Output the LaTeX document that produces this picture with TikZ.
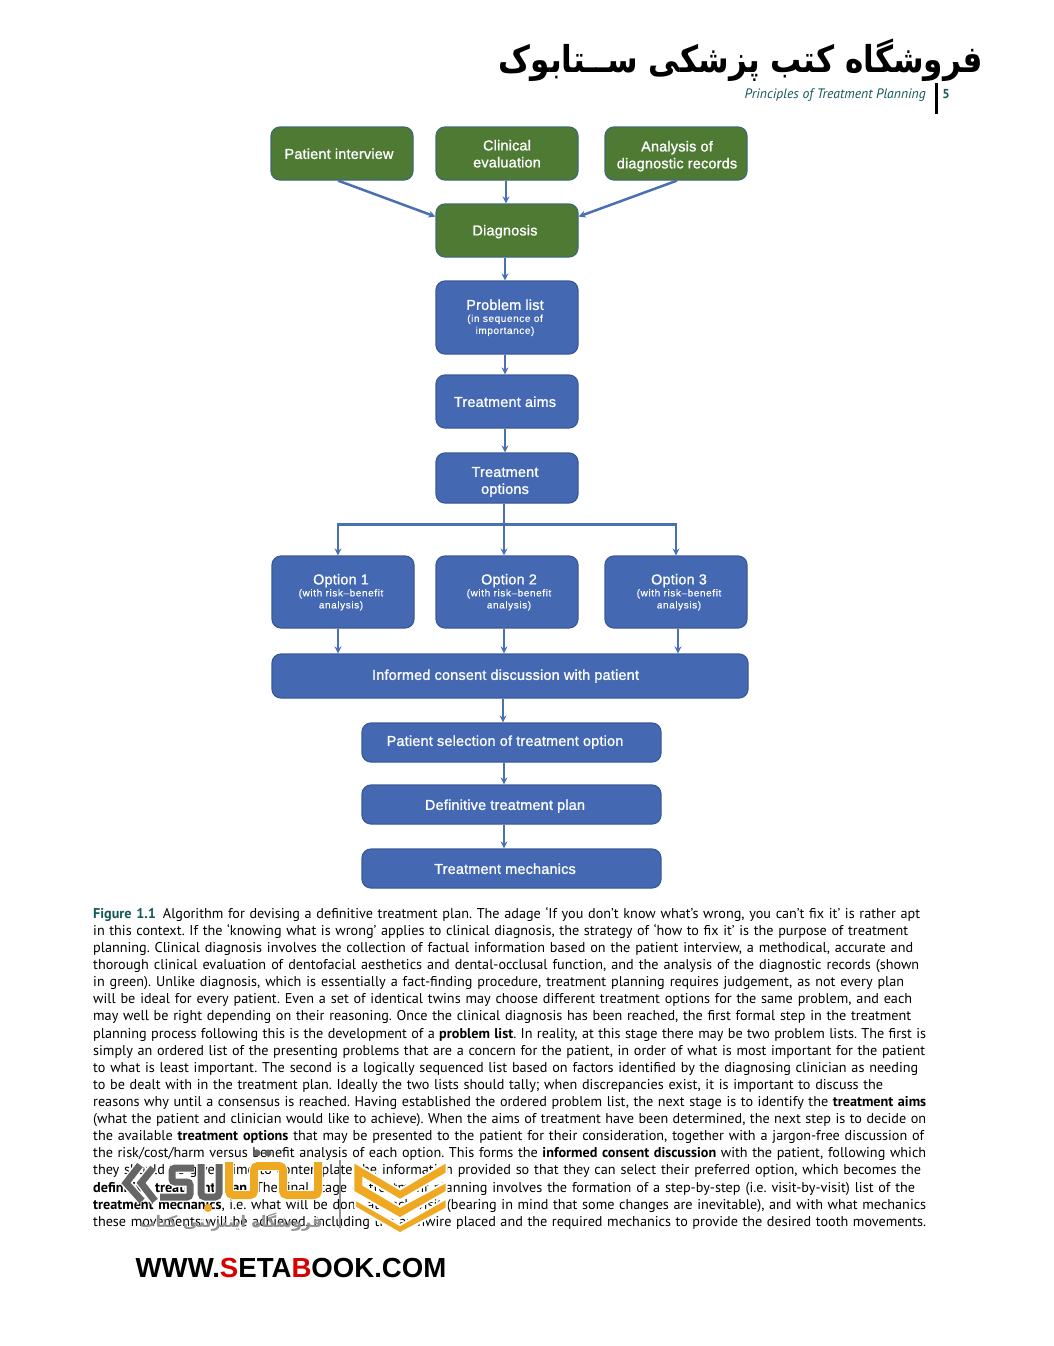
\documentclass[tikz,border=0pt]{standalone}
\usepackage{fontspec}
\usetikzlibrary{arrows.meta}
\setmainfont{PT Sans}
\newfontfamily\boxfont[LetterSpace=1.5,FakeBold=1.2]{Liberation Sans}
\newfontfamily\boxsmall[LetterSpace=6,FakeBold=0.4]{Liberation Sans}
\newfontfamily\capfont{PT Sans}
\newfontfamily\urlfont{Liberation Sans}
\newfontfamily\farsi[Script=Arabic]{DejaVu Sans}
\TeXXeTstate=1
\frenchspacing
\definecolor{boxblue}{HTML}{4469B2}
\definecolor{boxgreen}{HTML}{4E7A34}
\definecolor{greenedge}{HTML}{3F6A72}
\definecolor{arrowblue}{HTML}{4A70B4}
\definecolor{teal1}{HTML}{15595A}
\definecolor{logoorange}{HTML}{EFA822}
\definecolor{logogrey}{HTML}{666666}
\tikzset{
  flow/.style={rounded corners=9pt,line width=1.2pt,text=white,inner sep=0pt,
    font=\boxfont\fontsize{14.4}{17}\selectfont},
  greenbox/.style={flow,fill=boxgreen,draw=greenedge},
  bluebox/.style={flow,fill=boxblue,draw=boxblue!85!black},
  wide/.style={minimum width=142pt},
  conn/.style={draw=arrowblue,line width=2.5pt,-{Stealth[length=7pt,width=7pt]}},
  connplain/.style={draw=arrowblue,line width=2.5pt},
  caption/.style={anchor=north west,inner sep=0pt,align=left,text width=900pt,text=black,
    font=\capfont\fontsize{14.2}{17.11}\selectfont},
}
\newcommand{\sm}[1]{{\boxsmall\fontsize{10}{12}\selectfont #1}}
% box text: #1 kern on the right (twice the leftward offset), #2 blank above (twice the downward offset)
\newcommand{\tx}[3]{\vbox{\kern#2\hbox{\begin{tabular}{@{}c@{}}#3\end{tabular}\kern#1}}}
% one caption line, set to the width it has in the reference
\newcommand{\cl}[2]{\leavevmode\hbox to #1pt{\frenchspacing\spaceskip=\fontdimen2\font plus 1fil minus 1fil\relax #2}}
\begin{document}
\begin{tikzpicture}[x=1pt,y=-1pt]
\useasboundingbox (0,0) rectangle (1053,1346);
\fill[white] (0,0) rectangle (1053,1346);

% header
\node[anchor=center,inner sep=0pt,xscale=0.84,transform shape] (shop) at (741,60)
  {\farsi\bfseries\fontsize{37}{44}\selectfont\beginR فروشگاه کتب پزشکی ســتابوک\endR};
\node[anchor=east,inner sep=0pt,text=teal1] (running) at (926,95.5)
  {\capfont\itshape\fontsize{13.7}{17}\selectfont Principles of Treatment Planning};
\coordinate (ruleA) at (936.5,83);
\coordinate (ruleB) at (936.5,114);
\draw[black,line width=2.4pt] (ruleA) -- (ruleB);
\node[anchor=center,inner sep=0pt,text=teal1] (pageno) at (946,94)
  {\capfont\bfseries\fontsize{13}{15}\selectfont 5};

% flowchart nodes
\node[greenbox,wide,minimum height=53pt] (pi) at (342,153.5) {\tx{6pt}{4pt}{Patient interview}};
\node[greenbox,wide,minimum height=53pt] (ce) at (507,153.5) {\tx{0pt}{4pt}{Clinical\\evaluation}};
\node[greenbox,wide,minimum height=53pt] (ad) at (676,153.5) {\tx{-2pt}{6pt}{Analysis of\\diagnostic records}};
\node[greenbox,wide,minimum height=53pt] (dg) at (507,230.5) {\tx{4pt}{3pt}{Diagnosis}};
\node[bluebox,wide,minimum height=73pt] (pl) at (507,317.5) {\tx{4pt}{2pt}{Problem list\\[-5pt]\sm{(in sequence of}\\[-5pt]\sm{importance)}}};
\node[bluebox,wide,minimum height=53pt] (ta) at (507,401.5) {\tx{4pt}{4pt}{Treatment aims}};
\node[bluebox,wide,minimum height=50pt] (to) at (507,478) {\tx{4pt}{8pt}{Treatment\\options}};
\node[bluebox,wide,minimum height=72pt] (o1) at (343,592) {\tx{4pt}{2pt}{Option 1\\[-5pt]\sm{(with risk–benefit}\\[-5pt]\sm{analysis)}}};
\node[bluebox,wide,minimum height=72pt] (o2) at (507,592) {\tx{-4pt}{2pt}{Option 2\\[-5pt]\sm{(with risk–benefit}\\[-5pt]\sm{analysis)}}};
\node[bluebox,wide,minimum height=72pt] (o3) at (676,592) {\tx{-6pt}{2pt}{Option 3\\[-5pt]\sm{(with risk–benefit}\\[-5pt]\sm{analysis)}}};
\node[bluebox,minimum width=476pt,minimum height=44pt] (ic) at (510,676) {\tx{9pt}{1pt}{Informed consent discussion with patient}};
\node[bluebox,minimum width=299pt,minimum height=39pt] (ps) at (511.5,742.5) {\tx{13pt}{0pt}{Patient selection of treatment option}};
\node[bluebox,minimum width=299pt,minimum height=39pt] (dp) at (511.5,804.5) {\tx{13pt}{4pt}{Definitive treatment plan}};
\node[bluebox,minimum width=299pt,minimum height=39pt] (tm) at (511.5,868.5) {\tx{13pt}{4pt}{Treatment mechanics}};

% connectors
\draw[conn] ([xshift=-4pt]pi.south) -- (dg.169);
\draw[conn] ([xshift=-1pt]ce.south) -- ([xshift=-1pt]dg.north);
\draw[conn] ([xshift=1pt]ad.south) -- (dg.11);
\draw[conn] ([xshift=-2pt]dg.south) -- ([xshift=-2pt]pl.north);
\draw[conn] ([xshift=-2pt]pl.south) -- ([xshift=-2pt]ta.north);
\draw[conn] ([xshift=-2pt]ta.south) -- ([xshift=-2pt]to.north);
\coordinate (fork) at ([xshift=-3pt,yshift=-21pt]to.south);
\draw[connplain] ([xshift=-3pt]to.south) -- (fork);
\draw[conn] (fork) -- ([xshift=-3pt]o2.north);
\draw[conn] (fork) -| ([xshift=-5pt]o1.north);
\draw[conn] (fork) -| (o3.north);
\coordinate (o1b) at ([xshift=-5pt]o1.south);
\coordinate (o2b) at ([xshift=-3pt]o2.south);
\coordinate (o3b) at ([xshift=2pt]o3.south);
\coordinate (icb) at ([xshift=-7pt]ic.south);
\draw[conn] (o1b) -- (o1b |- ic.north);
\draw[conn] (o2b) -- (o2b |- ic.north);
\draw[conn] (o3b) -- (o3b |- ic.north);
\draw[conn] (icb) -- (icb |- ps.north);
\draw[conn] ([xshift=-7.5pt]ps.south) -- ([xshift=-7.5pt]dp.north);
\draw[conn] ([xshift=-7.5pt]dp.south) -- ([xshift=-7.5pt]tm.north);

% caption
\node[caption] (capt) at (93,907) {%
\cl{827}{{\bfseries\textcolor{teal1}{Figure 1.1}}\hspace{7pt}Algorithm for devising a definitive treatment plan. The adage ‘If you don’t know what’s wrong, you can’t fix it’ is rather apt}\\
\cl{815}{in this context. If the ‘knowing what is wrong’ applies to clinical diagnosis, the strategy of ‘how to fix it’ is the purpose of treatment}\\
\cl{820}{planning. Clinical diagnosis involves the collection of factual information based on the patient interview, a methodical, accurate and}\\
\cl{826}{thorough clinical evaluation of dentofacial aesthetics and dental-occlusal function, and the analysis of the diagnostic records (shown}\\
\cl{811}{in green). Unlike diagnosis, which is essentially a fact-finding procedure, treatment planning requires judgement, as not every plan}\\
\cl{819}{will be ideal for every patient. Even a set of identical twins may choose different treatment options for the same problem, and each}\\
\cl{818}{may well be right depending on their reasoning. Once the clinical diagnosis has been reached, the first formal step in the treatment}\\
\cl{833}{planning process following this is the development of a \textbf{problem list}. In reality, at this stage there may be two problem lists. The first is}\\
\cl{832}{simply an ordered list of the presenting problems that are a concern for the patient, in order of what is most important for the patient}\\
\cl{825}{to what is least important. The second is a logically sequenced list based on factors identified by the diagnosing clinician as needing}\\
\cl{790}{to be dealt with in the treatment plan. Ideally the two lists should tally; when discrepancies exist, it is important to discuss the}\\
\cl{833}{reasons why until a consensus is reached. Having established the ordered problem list, the next stage is to identify the \textbf{treatment aims}}\\
\cl{833}{(what the patient and clinician would like to achieve). When the aims of treatment have been determined, the next step is to decide on}\\
\cl{831}{the available \textbf{treatment options} that may be presented to the patient for their consideration, together with a jargon-free discussion of}\\
\cl{833}{the risk/cost/harm versus benefit analysis of each option. This forms the \textbf{informed consent discussion} with the patient, following which}\\
\cl{828}{they should be given time to contemplate the information provided so that they can select their preferred option, which becomes the}\\
\cl{822}{\textbf{definitive treatment plan}. The final stage of treatment planning involves the formation of a step-by-step (i.e. visit-by-visit) list of the}\\
\cl{833}{\textbf{treatment mechanics}, i.e. what will be done at each visit (bearing in mind that some changes are inevitable), and with what mechanics}\\
\cl{833}{these movements will be achieved, including the archwire placed and the required mechanics to provide the desired tooth movements.}};

% watermark logo: grey strokes
\foreach \colr/\w in {white/10pt,logogrey/7pt}{
  \draw[draw=\colr,line width=\w,line join=miter] (140,1165) -- (126,1183) -- (142,1201);
  \draw[draw=\colr,line width=\w,line join=miter] (153,1168) -- (141,1183) -- (155,1201);
  \draw[draw=\colr,line width=\w,rounded corners=3pt] (194,1168) -- (172,1168) -- (172,1182) -- (190,1182) -- (190,1197) -- (160,1197);
  \draw[draw=\colr,line width=\w,rounded corners=4pt] (201,1164) -- (201,1197) -- (219,1197) -- (219,1164);
}
\foreach \colr/\w in {white/10pt,logoorange/8pt}{
  \draw[draw=\colr,line width=\w,rounded corners=4pt] (229,1162) -- (229,1195) -- (254,1195) -- (254,1166) -- (283,1166) -- (283,1195) -- (318,1195) -- (318,1162);
}
\fill[logoorange] (208,1208) circle (4pt);
\fill[logogrey] (257,1153) circle (3.5pt) (268,1153) circle (3.5pt);
\coordinate (barA) at (340,1160);
\coordinate (barB) at (340,1228);
\draw[logogrey!70,line width=1.5pt] (barA) -- (barB);

% watermark logo: shield
\begin{scope}[shift={(330,1150)},x=0.3333pt,y=-0.3333pt]
  \filldraw[fill=logoorange,draw=white,line width=2pt,line join=miter]
    (70,35) -- (210,118) -- (350,35) -- (350,70) -- (210,150) -- (100,85) -- (100,105) -- (210,170)
    -- (350,95) -- (350,125) -- (210,205) -- (70,125) -- cycle;
  \filldraw[fill=logoorange,draw=white,line width=2pt,line join=miter]
    (75,148) -- (210,225) -- (350,145) -- (350,175) -- (210,250) -- (75,172) -- cycle;
\end{scope}

\node[anchor=center,inner sep=0pt,text=black!42] (shopfa) at (231,1222)
  {\farsi\bfseries\fontsize{16}{18}\selectfont\beginR فروشگاه اینترنتی کتاب\endR};
\node[anchor=center,inner sep=0pt] (url) at (291,1268)
  {\urlfont\bfseries\fontsize{27.6}{32}\selectfont WWW.\textcolor{red!85!black}{S}ETA\textcolor{red!85!black}{B}OOK.COM};
\end{tikzpicture}
\end{document}
